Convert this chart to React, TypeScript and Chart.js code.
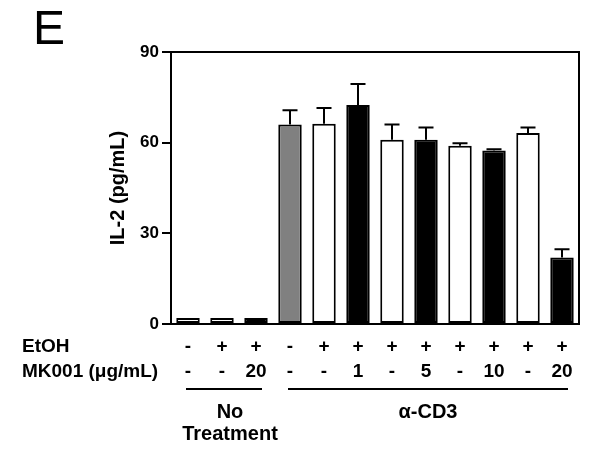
import React, { useEffect, useRef } from 'react';
import { Chart, registerables } from 'chart.js';

Chart.register(...registerables);

const categories = ['c1', 'c2', 'c3', 'c4', 'c5', 'c6', 'c7', 'c8', 'c9', 'c10', 'c11', 'c12'];
const etohRow = ['-', '+', '+', '-', '+', '+', '+', '+', '+', '+', '+', '+'];
const mk001Row = ['-', '-', '20', '-', '-', '1', '-', '5', '-', '10', '-', '20'];
const il2Values = [2, 2, 2, 66, 66.3, 72.5, 61, 61, 59, 57.4, 63.2, 22];
const il2ErrorTop = [2, 2, 2, 70.7, 71.5, 79.4, 66, 65, 59.8, 57.8, 65, 24.7];
const barColors = ['#ffffff', '#ffffff', '#000000', '#808080', '#ffffff', '#000000', '#ffffff', '#000000', '#ffffff', '#000000', '#ffffff', '#000000'];
const yTicks = [0, 30, 60, 90];
const groups = [
  { lines: ['No', 'Treatment'], from: 0, to: 2 },
  { lines: ['\u03B1-CD3'], from: 3, to: 11 },
];
const rowTitles = ['EtOH', 'MK001 (\u03BCg/mL)'];

const FONT = "'Liberation Sans', Arial, sans-serif";

export default function App() {
  const ref = useRef<HTMLCanvasElement | null>(null);

  useEffect(() => {
    document.body.style.margin = '0';
    const canvas = ref.current;
    if (!canvas) return;

    const errorBars = {
      id: 'errorBars',
      afterDatasetsDraw(chart: any) {
        const ctx = chart.ctx;
        const meta = chart.getDatasetMeta(0);
        const y = chart.scales.y;
        ctx.save();
        ctx.strokeStyle = '#000';
        ctx.lineWidth = 2;
        meta.data.forEach((bar: any, i: number) => {
          const top = il2ErrorTop[i];
          if (top <= il2Values[i] + 0.2) return;
          const x = bar.x;
          const yv = y.getPixelForValue(il2Values[i]);
          const ye = y.getPixelForValue(top);
          ctx.beginPath();
          ctx.moveTo(x, yv);
          ctx.lineTo(x, ye);
          ctx.moveTo(x - 7.5, ye);
          ctx.lineTo(x + 7.5, ye);
          ctx.stroke();
        });
        ctx.restore();
      },
    };

    const frameAndText = {
      id: 'frameAndText',
      afterDraw(chart: any) {
        const ctx = chart.ctx;
        const a = chart.chartArea;
        const xs = chart.scales.x;
        ctx.save();
        ctx.strokeStyle = '#000';
        ctx.lineWidth = 2;
        ctx.beginPath();
        ctx.moveTo(a.left, a.top);
        ctx.lineTo(a.right, a.top);
        ctx.lineTo(a.right, a.bottom);
        ctx.lineTo(a.left - 9, a.bottom);
        ctx.stroke();

        // Panel letter
        ctx.fillStyle = '#000';
        ctx.font = `48px ${FONT}`;
        ctx.textAlign = 'left';
        ctx.textBaseline = 'alphabetic';
        ctx.fillText('E', 33, 44);

        // Y title
        ctx.save();
        ctx.translate(118, (a.top + a.bottom) / 2);
        ctx.rotate(-Math.PI / 2);
        ctx.font = `bold 20px ${FONT}`;
        ctx.textAlign = 'center';
        ctx.textBaseline = 'middle';
        ctx.fillText('IL-2 (pg/mL)', 0, 0);
        ctx.restore();

        // Row titles
        ctx.font = `bold 19px ${FONT}`;
        ctx.textAlign = 'left';
        ctx.textBaseline = 'middle';
        ctx.fillText(rowTitles[0], 22, 347);
        ctx.fillText(rowTitles[1], 22, 372);

        // Row values
        ctx.textAlign = 'center';
        categories.forEach((_, i) => {
          const x = xs.getPixelForValue(i);
          ctx.fillText(etohRow[i], x, 347);
          ctx.fillText(mk001Row[i], x, 372);
        });

        // Group lines and labels
        groups.forEach((g) => {
          const x1 = xs.getPixelForValue(g.from) - 2;
          const x2 = xs.getPixelForValue(g.to) + 6;
          ctx.beginPath();
          ctx.lineWidth = 2;
          ctx.moveTo(x1, 389);
          ctx.lineTo(x2, 389);
          ctx.stroke();
          const cx = (x1 + x2) / 2 + (g.lines.length > 1 ? 6 : 0);
          ctx.font = `bold 20px ${FONT}`;
          g.lines.forEach((t, k) => {
            ctx.fillText(t, cx, 412 + k * 22);
          });
        });
        ctx.restore();
      },
    };

    const chart = new Chart(canvas, {
      type: 'bar',
      data: {
        labels: categories,
        datasets: [
          {
            data: il2Values,
            backgroundColor: barColors,
            borderColor: '#000',
            borderWidth: 2,
            borderSkipped: false,
            barPercentage: 0.69,
            categoryPercentage: 1,
          },
        ],
      },
      options: {
        responsive: false,
        animation: false,
        layout: { padding: { left: 0, top: 52, right: 21, bottom: 142 } },
        plugins: { legend: { display: false }, tooltip: { enabled: false }, title: { display: false } },
        scales: {
          x: { display: false },
          y: {
            min: 0,
            max: 90,
            afterFit(scale: any) {
              scale.width = 171;
            },
            afterBuildTicks(scale: any) {
              scale.ticks = yTicks.map((v) => ({ value: v }));
            },
            border: { display: true, color: '#000', width: 2 },
            grid: { display: true, drawOnChartArea: false, drawTicks: true, tickLength: 9, color: '#000', lineWidth: 2 },
            ticks: { color: '#000', padding: 3, font: { family: FONT, size: 17, weight: 'bold' } },
          },
        },
      },
      plugins: [errorBars, frameAndText],
    });

    return () => chart.destroy();
  }, []);

  return (
    <div style={{ width: 600, height: 466 }}>
      <canvas ref={ref} width={600} height={466} />
    </div>
  );
}
